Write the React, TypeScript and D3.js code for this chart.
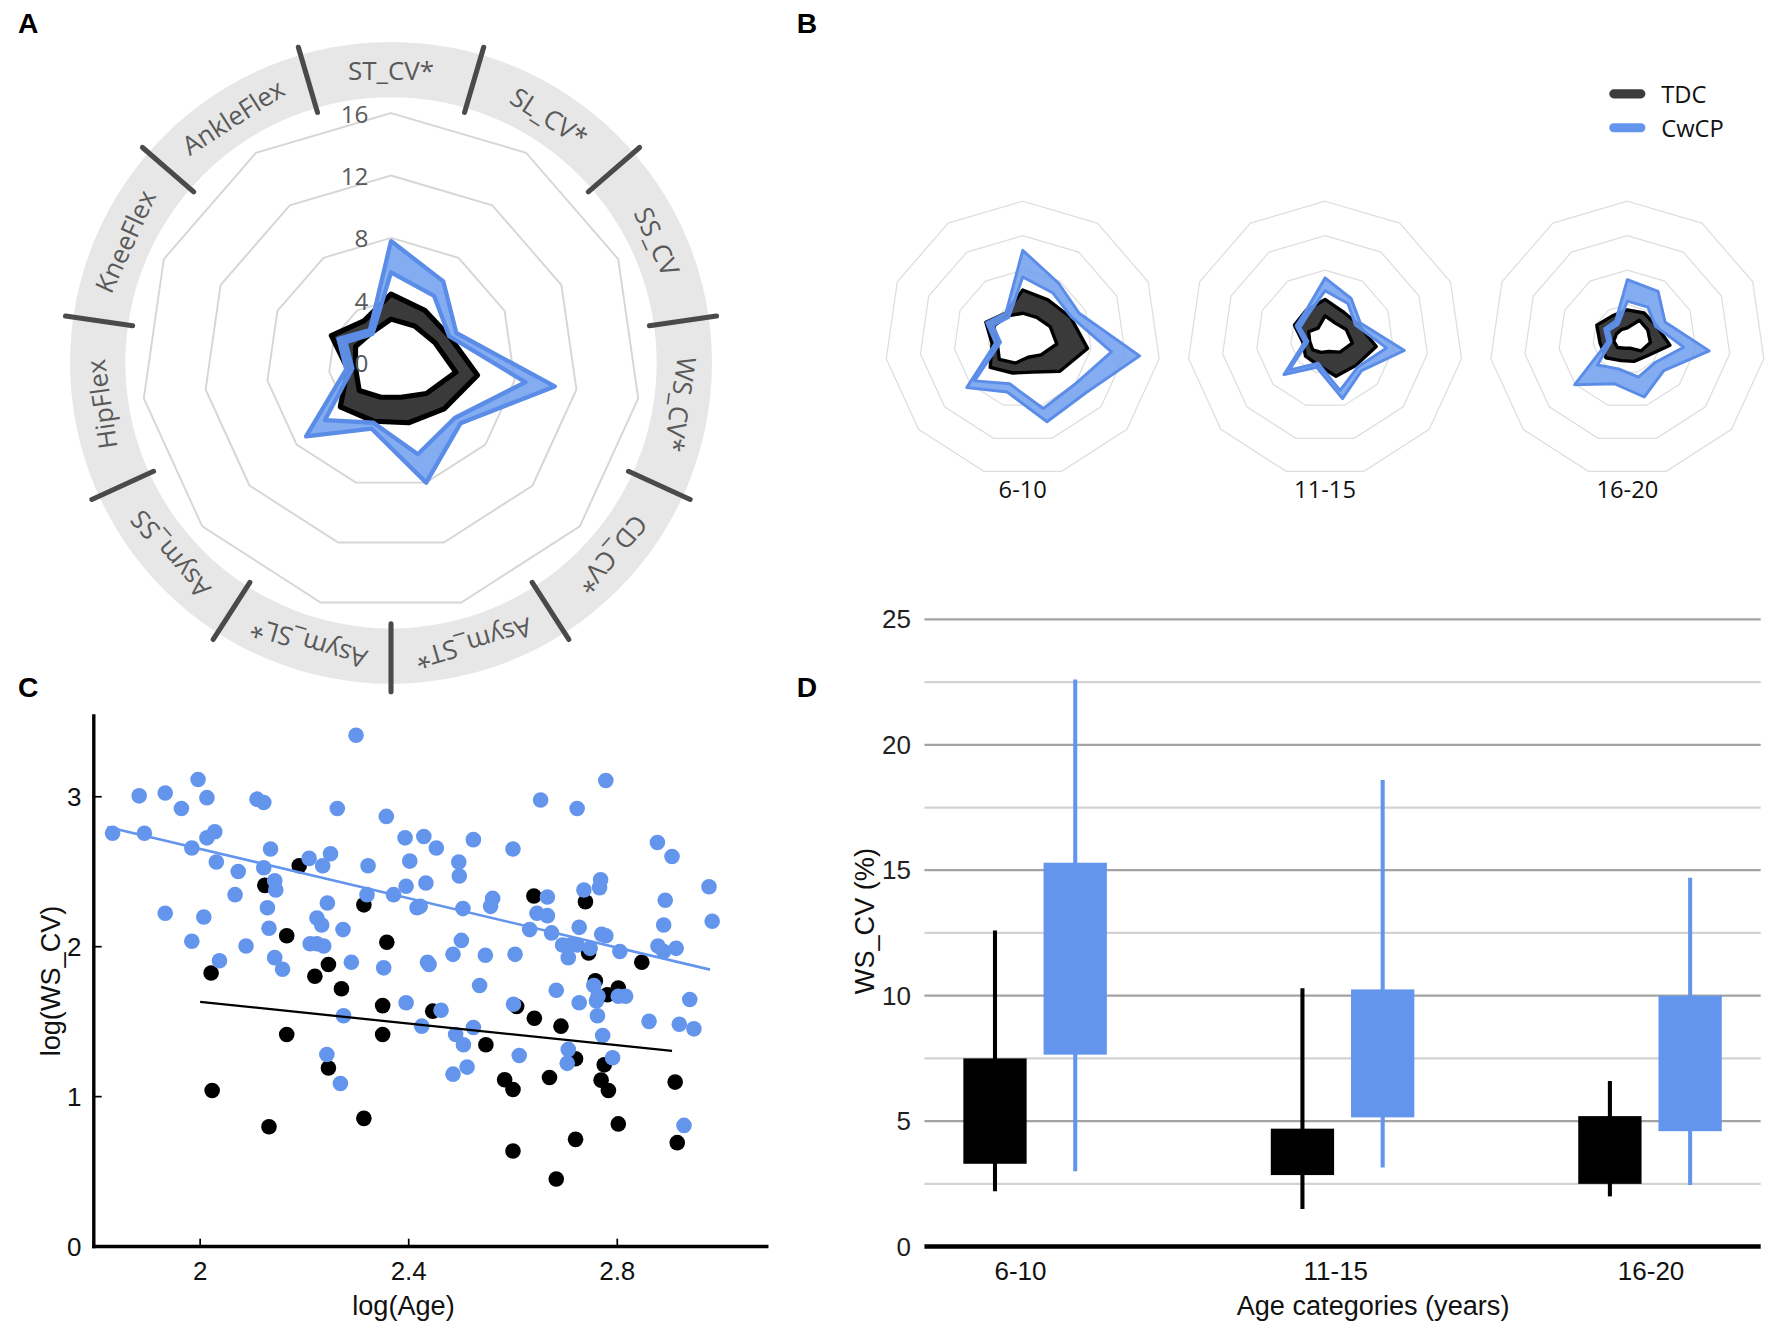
import React from 'react';
import * as d3 from 'd3';

const VIEW_W = 1568;
const VIEW_H = 1175;

// ---------- Panel A / B : radar data ----------
const radarAxes = ['ST_CV*', 'SL_CV*', 'SS_CV', 'WS_CV*', 'CD_CV*', 'Asym_ST*', 'Asym_SL*', 'Asym_SS', 'HipFlex', 'KneeFlex', 'AnkleFlex'];
const radarLevels = [4, 8, 12, 16];

const overallTdcInner = [2.8, 2.8, 3.1, 4.2, 3.0, 2.3, 2.3, 2.7, 2.3, 2.5, 2.3];
const overallTdcOuter = [4.4, 4.0, 4.1, 5.6, 4.5, 4.0, 3.9, 4.3, 2.8, 4.2, 3.2];
const overallCwcpInner = [5.8, 5.1, 4.1, 8.7, 5.4, 6.1, 4.0, 5.6, 2.5, 3.2, 2.2];
const overallCwcpOuter = [7.8, 6.2, 4.6, 10.6, 5.9, 8.0, 4.4, 7.2, 2.9, 3.7, 2.5];

const ageGroups = ['6-10', '11-15', '16-20'];
const tdcInnerByAge = [
  [3.0, 3.0, 3.5, 4.0, 2.8, 2.2, 2.9, 3.6, 3.0, 3.7, 3.2],
  [2.7, 2.2, 2.7, 3.2, 2.3, 1.5, 1.6, 1.9, 1.8, 2.1, 1.5],
  [1.3, 2.6, 2.6, 2.7, 2.1, 1.1, 1.1, 1.5, 1.6, 1.4, 1.3],
];
const tdcOuterByAge = [
  [5.7, 5.4, 6.1, 7.6, 5.7, 4.0, 4.1, 5.0, 3.6, 4.7, 3.6],
  [4.6, 3.8, 4.2, 6.0, 4.7, 4.5, 3.1, 3.0, 2.6, 3.9, 4.0],
  [3.4, 3.6, 3.7, 5.0, 3.0, 2.7, 2.6, 3.3, 3.2, 3.9, 3.2],
];
const cwcpInnerByAge = [
  [7.2, 6.4, 6.2, 10.4, 8.0, 8.4, 5.4, 7.4, 2.6, 3.8, 3.0],
  [5.6, 4.9, 3.9, 7.2, 5.0, 6.2, 2.9, 5.5, 2.0, 3.2, 3.5],
  [4.4, 4.4, 3.6, 6.6, 4.2, 4.6, 3.6, 4.6, 1.9, 2.4, 2.0],
];
const cwcpOuterByAge = [
  [10.3, 7.7, 7.2, 13.7, 9.6, 10.0, 6.4, 8.6, 3.2, 4.6, 3.6],
  [7.1, 5.6, 4.5, 9.3, 5.6, 7.2, 3.4, 6.3, 2.4, 3.7, 4.0],
  [6.9, 6.6, 4.8, 9.6, 5.6, 7.0, 5.4, 8.1, 2.3, 2.9, 2.5],
];
const legendLabels = ['TDC', 'CwCP'];

// ---------- Panel C : scatter data ----------
const cwcpLogAge = [
  1.832, 1.883, 1.893, 1.933, 1.933, 1.964, 1.984, 1.984, 1.996, 2.007, 2.013, 2.013, 2.028, 2.031, 2.037,
  2.067, 2.073, 2.088, 2.109, 2.122, 2.122, 2.135, 2.129, 2.132, 2.143, 2.145, 2.143, 2.158, 2.209, 2.211,
  2.224, 2.224, 2.233, 2.235, 2.237, 2.244, 2.250, 2.263, 2.274, 2.275, 2.243, 2.269, 2.290, 2.299, 2.320,
  2.322, 2.352, 2.357, 2.371, 2.393, 2.395, 2.395, 2.402, 2.416, 2.422, 2.425, 2.429, 2.433, 2.436, 2.439,
  2.453, 2.462, 2.485, 2.485, 2.490, 2.496, 2.497, 2.501, 2.504, 2.505, 2.512, 2.524, 2.524, 2.536, 2.547,
  2.557, 2.561, 2.600, 2.604, 2.601, 2.612, 2.632, 2.646, 2.653, 2.666, 2.666, 2.674, 2.683, 2.695, 2.706,
  2.706, 2.704, 2.710, 2.723, 2.723, 2.727, 2.727, 2.736, 2.748, 2.755, 2.760, 2.762, 2.763, 2.766, 2.768,
  2.770, 2.772, 2.778, 2.778, 2.791, 2.802, 2.805, 2.816, 2.861, 2.877, 2.878, 2.889, 2.892, 2.889, 2.905,
  2.913, 2.919, 2.928, 2.939, 2.947, 2.976, 2.982,
];
const cwcpLogWS = [
  2.757, 3.006, 2.757, 3.025, 2.223, 2.922, 2.658, 2.036, 3.115, 2.198, 2.994, 2.726, 2.767, 2.565, 1.906,
  2.347, 2.502, 2.005, 2.984, 2.962, 2.527, 2.652, 2.260, 2.123, 2.440, 2.378, 1.927, 1.850, 2.589, 2.020,
  2.191, 2.020, 2.145, 2.540, 2.005, 2.291, 2.620, 2.922, 2.114, 1.539, 1.281, 1.088, 1.896, 3.410, 2.347,
  2.540, 1.859, 2.869, 2.347, 2.726, 2.403, 1.626, 2.571, 2.260, 2.269, 1.470, 2.735, 2.425, 1.896, 1.881,
  2.658, 1.576, 1.949, 1.150, 1.414, 2.565, 2.471, 2.042, 2.254, 1.346, 1.197, 2.714, 1.461, 1.741, 1.943,
  2.269, 2.322, 2.652, 1.949, 1.616, 1.274, 2.114, 2.223, 2.978, 2.207, 2.331, 2.092, 1.710, 2.011, 1.927,
  1.315, 1.222, 2.011, 2.922, 2.011, 2.129, 1.626, 2.378, 1.989, 1.741, 1.638, 1.539, 1.669, 2.394, 2.446,
  2.083, 1.408, 2.073, 3.108, 1.259, 1.669, 1.968, 1.669, 1.502, 2.695, 2.005, 2.145, 2.310, 1.968, 2.602,
  1.989, 1.483, 0.808, 1.648, 1.452, 2.400, 2.170,
];
const tdcLogAge = [
  2.021, 2.023, 2.124, 2.132, 2.166, 2.166, 2.190, 2.220, 2.246, 2.246, 2.271, 2.314, 2.314, 2.350, 2.350,
  2.358, 2.446, 2.548, 2.584, 2.600, 2.600, 2.607, 2.640, 2.641, 2.670, 2.683, 2.692, 2.720, 2.720, 2.739,
  2.745, 2.758, 2.769, 2.775, 2.781, 2.783, 2.802, 2.802, 2.847, 2.911, 2.915,
];
const tdcLogWS = [
  1.825, 1.041, 2.409, 0.799, 2.073, 1.414, 2.540, 1.803, 1.881, 1.191, 1.719, 2.279, 0.855, 1.607, 1.414,
  2.030, 1.570, 1.346, 1.113, 1.048, 0.637, 1.601, 2.338, 1.523, 1.128, 0.451, 1.470, 1.253, 0.715, 2.300,
  1.958, 1.772, 1.110, 1.212, 1.679, 1.041, 1.725, 0.818, 1.896, 1.097, 0.693,
];
const cwcpFitAge = [1.822, 2.978];
const cwcpFitWS = [2.799, 1.847];
const tdcFitAge = [2.0, 2.905];
const tdcFitWS = [1.632, 1.305];
const cTicksX = [2, 2.4, 2.8];
const cTicksY = [0, 1, 2, 3];

// ---------- Panel D : box data ----------
const dCategories = ['6-10', '11-15', '16-20'];
const tdcLow = [2.2, 1.5, 2.0];
const tdcQ1 = [3.3, 2.85, 2.5];
const tdcQ3 = [7.5, 4.7, 5.2];
const tdcHigh = [12.6, 10.3, 6.6];
const cwcpLow = [3.0, 3.15, 2.45];
const cwcpQ1 = [7.65, 5.15, 4.6];
const cwcpQ3 = [15.3, 10.25, 10.0];
const cwcpHigh = [22.6, 18.6, 14.7];
const dMajorTicks = [0, 5, 10, 15, 20, 25];
const dMinorTicks = [2.5, 7.5, 12.5, 17.5, 22.5];

// ---------- styling ----------
const BLUE = '#6495ED';
const BLUE_EDGE = '#5b8de8';
const GREY_TXT = '#595959';
const SEGOE = "'Open Sans', 'Noto Sans', sans-serif";
const ARIAL = "'Liberation Sans', Arial, sans-serif";

const N = radarAxes.length;
const angleOf = (i: number) => (i * 2 * Math.PI) / N;

function radialLine(r: d3.ScaleLinear<number, number>) {
  return d3
    .lineRadial<number>()
    .angle((_, i) => angleOf(i))
    .radius((d) => r(d))
    .curve(d3.curveLinearClosed);
}

function RadarBands({ r, tdcIn, tdcOut, cwIn, cwOut, swT, swB }: any) {
  const line = radialLine(r);
  return (
    <g>
      <path d={(line(tdcOut) || '') + (line(tdcIn) || '')} fill="#3a3a3a" fillRule="evenodd" stroke="#000" strokeWidth={swT} strokeLinejoin="round" />
      <path d={(line(cwOut) || '') + (line(cwIn) || '')} fill="#6f9ded" fillOpacity={0.85} fillRule="evenodd" stroke={BLUE_EDGE} strokeWidth={swB} strokeLinejoin="round" />
    </g>
  );
}

function RadarGrid({ r, color, sw }: any) {
  const line = radialLine(r);
  return (
    <g>
      {radarLevels.map((lv) => (
        <path key={lv} d={line(radarAxes.map(() => lv)) || ''} fill="none" stroke={color} strokeWidth={sw} />
      ))}
    </g>
  );
}

function PanelA() {
  const cx = 346;
  const cy = 321;
  const r = d3.scaleLinear().domain([0, 16]).range([0, 221]);
  const ring = d3.arc()({ innerRadius: 235, outerRadius: 284, startAngle: 0, endAngle: 2 * Math.PI } as any) || '';
  const step = 360 / N;
  return (
    <g transform={`translate(${cx},${cy})`}>
      <path d={ring} fill="#e7e7e7" />
      {radarAxes.map((lab, i) => (
        <text key={lab} transform={`rotate(${i * step}) translate(0,-259)`} textAnchor="middle" dominantBaseline="central" fontFamily={SEGOE} fontSize={23} fill={GREY_TXT}>
          {lab}
        </text>
      ))}
      {radarAxes.map((lab, i) => (
        <line key={'d' + lab} transform={`rotate(${(i + 0.5) * step})`} x1={0} y1={-231} x2={0} y2={-291} stroke="#4a4a4a" strokeWidth={4.5} strokeLinecap="round" />
      ))}
      <RadarGrid r={r} color="#d6d6d6" sw={1.7} />
      <RadarBands r={r} tdcIn={overallTdcInner} tdcOut={overallTdcOuter} cwIn={overallCwcpInner} cwOut={overallCwcpOuter} swT={4.6} swB={3.8} />
      {[0, ...radarLevels].map((lv) => (
        <text key={'l' + lv} x={-20} y={-r(lv)} textAnchor="end" dominantBaseline="central" fontFamily={SEGOE} fontSize={21.5} fill={GREY_TXT}>
          {lv}
        </text>
      ))}
    </g>
  );
}

function PanelB() {
  const centersX = d3.scalePoint<string>().domain(ageGroups).range([905, 1440]);
  const cy = 300;
  const r = d3.scaleLinear().domain([0, 16]).range([0, 122]);
  return (
    <g>
      {ageGroups.map((g, k) => (
        <g key={g} transform={`translate(${centersX(g)},${cy})`}>
          <RadarGrid r={r} color="#dedede" sw={1.1} />
          <RadarBands r={r} tdcIn={tdcInnerByAge[k]} tdcOut={tdcOuterByAge[k]} cwIn={cwcpInnerByAge[k]} cwOut={cwcpOuterByAge[k]} swT={3} swB={2.6} />
          <text x={0} y={133} textAnchor="middle" dominantBaseline="central" fontFamily={SEGOE} fontSize={21} fill="#111">
            {g}
          </text>
        </g>
      ))}
      {legendLabels.map((lab, i) => (
        <g key={lab} transform={`translate(0,${83 + i * 30})`}>
          <line x1={1428} x2={1452} y1={0} y2={0} stroke={i === 0 ? '#3c3c3c' : BLUE} strokeWidth={8} strokeLinecap="round" />
          <text x={1470} y={0} dominantBaseline="central" fontFamily={SEGOE} fontSize={21} fill="#111">
            {lab}
          </text>
        </g>
      ))}
    </g>
  );
}

function PanelC() {
  const x = d3.scaleLinear().domain([1.796, 3.09]).range([83, 680]);
  const y = d3.scaleLinear().domain([0, 3.55]).range([1103, 632]);
  const rPt = 6.9;
  return (
    <g>
      {tdcLogAge.map((a, i) => (
        <circle key={'t' + i} cx={x(a)} cy={y(tdcLogWS[i])} r={rPt} fill="#000" />
      ))}
      {cwcpLogAge.map((a, i) => (
        <circle key={'c' + i} cx={x(a)} cy={y(cwcpLogWS[i])} r={rPt} fill={BLUE} />
      ))}
      <line x1={x(cwcpFitAge[0])} y1={y(cwcpFitWS[0])} x2={x(cwcpFitAge[1])} y2={y(cwcpFitWS[1])} stroke={BLUE} strokeWidth={2.3} />
      <line x1={x(tdcFitAge[0])} y1={y(tdcFitWS[0])} x2={x(tdcFitAge[1])} y2={y(tdcFitWS[1])} stroke="#000" strokeWidth={2} />
      <line x1={83} y1={632} x2={83} y2={1104.5} stroke="#000" strokeWidth={3} />
      <line x1={81.5} y1={1103} x2={680} y2={1103} stroke="#000" strokeWidth={3} />
      {cTicksX.map((t) => (
        <g key={'x' + t}>
          <line x1={x(t)} x2={x(t)} y1={1103} y2={1096} stroke="#000" strokeWidth={1.5} />
          <text x={x(t)} y={1125} textAnchor="middle" dominantBaseline="central" fontFamily={ARIAL} fontSize={23} fill="#111">
            {t}
          </text>
        </g>
      ))}
      {cTicksY.map((t) => (
        <g key={'y' + t}>
          <line x1={83} x2={90} y1={y(t)} y2={y(t)} stroke="#000" strokeWidth={1.5} />
          <text x={72} y={y(t)} textAnchor="end" dominantBaseline="central" fontFamily={ARIAL} fontSize={23} fill="#111">
            {t}
          </text>
        </g>
      ))}
      <text x={357} y={1155} textAnchor="middle" dominantBaseline="central" fontFamily={ARIAL} fontSize={24} fill="#111">
        log(Age)
      </text>
      <text transform="translate(45,868) rotate(-90)" textAnchor="middle" dominantBaseline="central" fontFamily={ARIAL} fontSize={24} fill="#111">
        log(WS_CV)
      </text>
    </g>
  );
}

function PanelD() {
  const x = d3.scalePoint<string>().domain(dCategories).range([818, 1558]).padding(0.36);
  const labelX = d3.scalePoint<string>().domain(dCategories).range([903, 1461]);
  const y = d3.scaleLinear().domain([0, 25]).range([1103, 548]);
  const bw = 56;
  const off = 35.5;
  return (
    <g>
      {dMinorTicks.map((t) => (
        <line key={'m' + t} x1={818} x2={1558} y1={y(t)} y2={y(t)} stroke="#d3d3d3" strokeWidth={2} />
      ))}
      {dMajorTicks.filter((t) => t > 0).map((t) => (
        <line key={'M' + t} x1={818} x2={1558} y1={y(t)} y2={y(t)} stroke="#a3a3a3" strokeWidth={2} />
      ))}
      {dCategories.map((c, i) => {
        const gx = x(c) as number;
        const tx = gx - off;
        const bx = gx + off;
        return (
          <g key={c}>
            <line x1={tx} x2={tx} y1={y(tdcLow[i])} y2={y(tdcHigh[i])} stroke="#000" strokeWidth={3.6} />
            <rect x={tx - bw / 2} y={y(tdcQ3[i])} width={bw} height={y(tdcQ1[i]) - y(tdcQ3[i])} fill="#000" />
            <line x1={bx} x2={bx} y1={y(cwcpLow[i])} y2={y(cwcpHigh[i])} stroke={BLUE} strokeWidth={3.6} />
            <rect x={bx - bw / 2} y={y(cwcpQ3[i])} width={bw} height={y(cwcpQ1[i]) - y(cwcpQ3[i])} fill={BLUE} />
            <text x={labelX(c)} y={1125} textAnchor="middle" dominantBaseline="central" fontFamily={ARIAL} fontSize={23} fill="#111">
              {c}
            </text>
          </g>
        );
      })}
      <line x1={818} x2={1558} y1={y(0)} y2={y(0)} stroke="#000" strokeWidth={4} />
      {dMajorTicks.map((t) => (
        <text key={'t' + t} x={806} y={y(t)} textAnchor="end" dominantBaseline="central" fontFamily={ARIAL} fontSize={23} fill="#222">
          {t}
        </text>
      ))}
      <text x={1215} y={1155} textAnchor="middle" dominantBaseline="central" fontFamily={ARIAL} fontSize={24} fill="#111">
        Age categories (years)
      </text>
      <text transform="translate(765,815) rotate(-90)" textAnchor="middle" dominantBaseline="central" fontFamily={ARIAL} fontSize={24} fill="#111">
        WS_CV (%)
      </text>
    </g>
  );
}

export default function App() {
  const letters = [
    { t: 'A', x: 25, y: 20 },
    { t: 'B', x: 714, y: 20 },
    { t: 'C', x: 25, y: 608 },
    { t: 'D', x: 714, y: 608 },
  ];
  return (
    <svg
      width={1772}
      height={1328}
      viewBox={`0 0 ${VIEW_W} ${VIEW_H}`}
      style={{ position: 'absolute', left: 0, top: 0, background: '#fff', display: 'block' }}
    >
      <rect x={0} y={0} width={VIEW_W} height={VIEW_H} fill="#fff" />
      <PanelA />
      <PanelB />
      <PanelC />
      <PanelD />
      {letters.map((l) => (
        <text key={l.t} x={l.x} y={l.y} textAnchor="middle" dominantBaseline="central" fontFamily={ARIAL} fontWeight="bold" fontSize={25} fill="#000">
          {l.t}
        </text>
      ))}
    </svg>
  );
}
